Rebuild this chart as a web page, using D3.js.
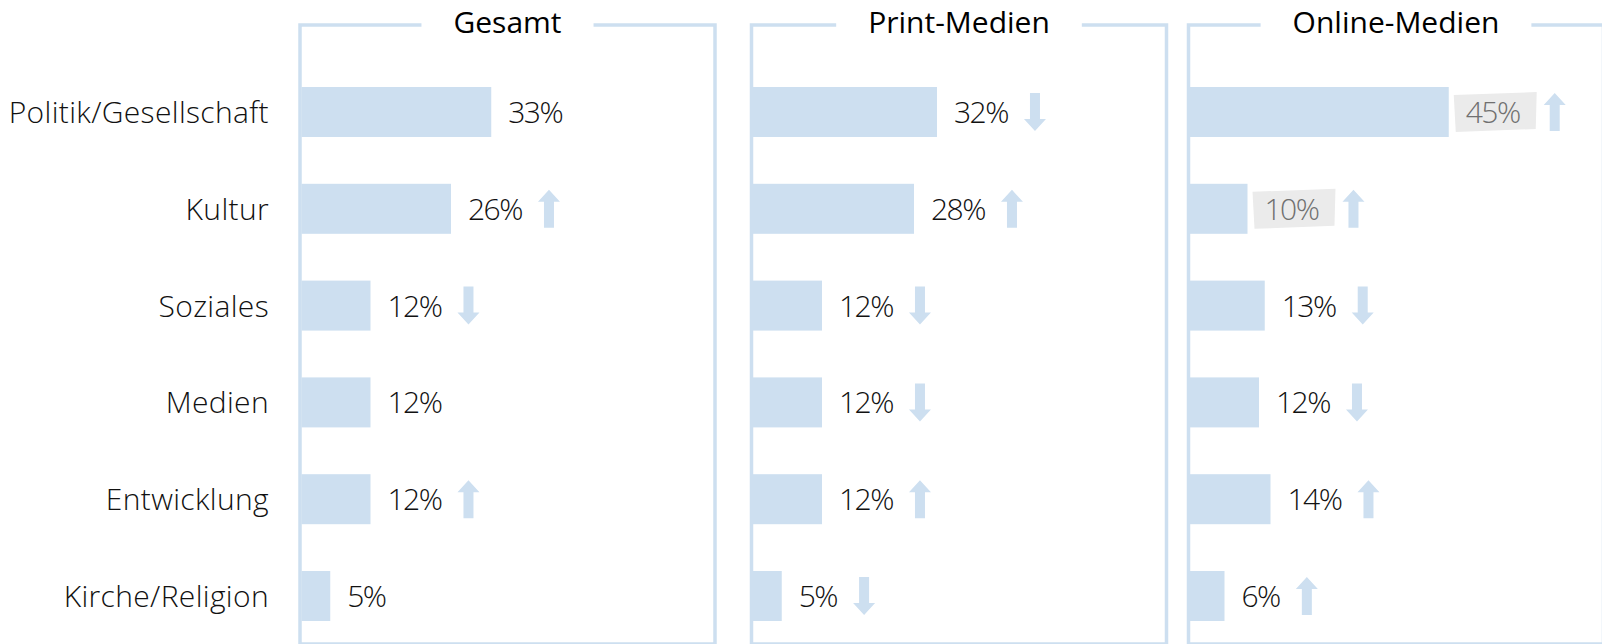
<!DOCTYPE html>
<html>
<head>
<meta charset="utf-8">
<script src="https://cdn.jsdelivr.net/npm/d3@7"></script>
<style>
  body { margin: 0; background: #fff; overflow: hidden; }
  svg { display: block; font-family: "Open Sans", "Noto Sans", sans-serif; }
</style>
</head>
<body>
<svg id="chart" width="1602" height="644"></svg>
<script>
// Daten
const categories = ["Politik/Gesellschaft", "Kultur", "Soziales", "Medien", "Entwicklung", "Kirche/Religion"];
const panelTitles = ["Gesamt", "Print-Medien", "Online-Medien"];

const gesamtValues = [33, 26, 12, 12, 12, 5];
const printValues  = [32, 28, 12, 12, 12, 5];
const onlineValues = [45, 10, 13, 12, 14, 6];

// 1 = Pfeil hoch, -1 = Pfeil runter, 0 = kein Pfeil
const gesamtTrend = [0, 1, -1, 0, 1, 0];
const printTrend  = [-1, 1, -1, -1, 1, -1];
const onlineTrend = [1, 1, -1, -1, 1, 1];

// grau hinterlegte Werte
const gesamtMarked = [false, false, false, false, false, false];
const printMarked  = [false, false, false, false, false, false];
const onlineMarked = [true, true, false, false, false, false];

const panels = [
  { title: panelTitles[0], values: gesamtValues, trend: gesamtTrend, marked: gesamtMarked },
  { title: panelTitles[1], values: printValues,  trend: printTrend,  marked: printMarked },
  { title: panelTitles[2], values: onlineValues, trend: onlineTrend, marked: onlineMarked }
];

const blue = "#cddff0";
const svg = d3.select("#chart");

const panelLeft = [300, 751.5, 1188.5];
const panelWidth = 415;
const frameTop = 25, frameBottom = 644;

const x = d3.scaleLinear().domain([0, 100]).range([0, 575]);
const y = d3.scalePoint().domain(categories).range([112, 596]);
const barH = 50;

// Kategorien links
svg.append("g").selectAll("text")
  .data(categories)
  .join("text")
  .attr("x", 269)
  .attr("y", d => y(d) + 11)
  .attr("text-anchor", "end")
  .attr("font-size", 30)
  .attr("font-weight", 300)
  .attr("letter-spacing", 0.35)
  .attr("fill", "#111")
  .text(d => d);

const arrowUp = "M-5,19 L5,19 L5,-7 L11,-7 L0,-19 L-11,-7 L-5,-7 Z";

panels.forEach((p, pi) => {
  const g = svg.append("g").attr("transform", `translate(${panelLeft[pi]},0)`);

  // Balken
  g.selectAll("rect.bar")
    .data(p.values)
    .join("rect")
    .attr("class", "bar")
    .attr("x", 1.5)
    .attr("y", (d, i) => y(categories[i]) - barH / 2)
    .attr("width", d => x(d))
    .attr("height", barH)
    .attr("fill", blue);

  // Titel + Rahmen (oben mit Lücke für den Titel)
  const title = g.append("text")
    .attr("x", panelWidth / 2)
    .attr("y", 33)
    .attr("text-anchor", "middle")
    .attr("font-size", 30)
    .attr("fill", "#000")
    .text(p.title);
  const tw = title.node().getComputedTextLength();
  const gapL = panelWidth / 2 - tw / 2 - 32, gapR = panelWidth / 2 + tw / 2 + 32;

  const frame = d3.path();
  frame.moveTo(gapL, frameTop);
  frame.lineTo(0, frameTop);
  frame.lineTo(0, frameBottom);
  frame.lineTo(panelWidth, frameBottom);
  frame.lineTo(panelWidth, frameTop);
  frame.lineTo(gapR, frameTop);
  g.append("path")
    .attr("d", frame.toString())
    .attr("fill", "none")
    .attr("stroke", blue)
    .attr("stroke-width", 3.5);

  // Werte
  p.values.forEach((v, i) => {
    const cy = y(categories[i]);
    const lx = 1.5 + x(v) + 17;
    const lg = g.append("g");
    const t = lg.append("text")
      .attr("x", lx)
      .attr("y", cy + 11)
      .attr("font-size", 30)
      .attr("font-weight", 300)
      .attr("letter-spacing", -1.5)
      .attr("fill", p.marked[i] ? "#707070" : "#111")
      .text(v + "%");
    let end = lx + t.node().getComputedTextLength();
    if (p.marked[i]) {
      const l = lx - 12, r = end + 17, top = cy - 20, bot = cy + 20;
      lg.insert("polygon", "text")
        .attr("points", [[l, top + 3], [r, top], [r - 1, bot - 3], [l + 2, bot]].map(q => q.join(",")).join(" "))
        .attr("fill", "#ebebeb");
      end = r - 9;
    }
    if (p.trend[i] !== 0) {
      g.append("path")
        .attr("d", arrowUp)
        .attr("transform", `translate(${end + 16 + 11},${cy}) scale(1,${p.trend[i] > 0 ? 1 : -1})`)
        .attr("fill", blue);
    }
  });
});
</script>
</body>
</html>
